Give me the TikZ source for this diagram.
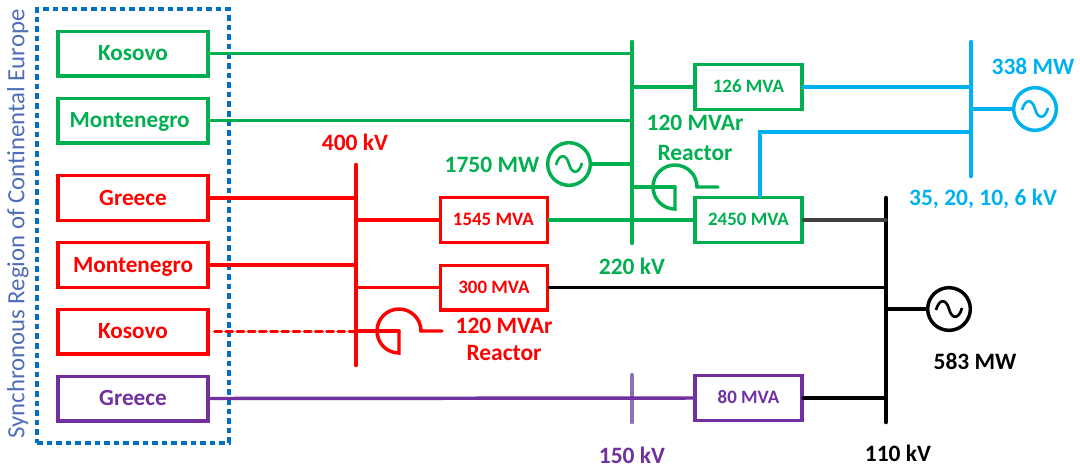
\documentclass[tikz,border=0pt]{standalone}
\usepackage{fontspec}
\setmainfont{Carlito}
\definecolor{acgreen}{HTML}{00B050}
\definecolor{acred}{HTML}{FF0000}
\definecolor{acblue}{HTML}{00B0F0}
\definecolor{acpurple}{HTML}{7030A0}
\definecolor{acfaded}{HTML}{8F6FB5}
\definecolor{acgrey}{HTML}{404040}
\definecolor{acframe}{HTML}{0070C0}
\definecolor{actitle}{HTML}{4F6DB8}
\tikzset{
    wire/.style={line width=2.6pt,line cap=round},
    bus/.style={line width=3.4pt,line cap=round},
    country/.style={draw,line width=2.6pt,minimum width=112.5pt,minimum height=33.4pt,inner sep=0pt,text height=12.6pt,text depth=1.4pt,font=\bfseries\fontsize{17.4}{20}\selectfont},
    trafo/.style={draw,line width=2.6pt,minimum width=80pt,minimum height=33.4pt,inner sep=0pt,text height=10pt,text depth=1.4pt,font=\bfseries\fontsize{14.2}{17}\selectfont},
    level/.style={font=\bfseries\fontsize{17.6}{20}\selectfont},
    gensym/.style={draw,circle,line width=2.6pt,minimum size=32pt,inner sep=0pt},
}
\begin{document}
\begin{tikzpicture}[x=0.75pt,y=-0.75pt]
    \useasboundingbox (0,0) rectangle (1080,468);

    % region
    \node[draw=acframe,line width=2.8pt,dash pattern=on 4.2pt off 3pt,minimum width=144pt,minimum height=325.5pt,inner sep=0pt] (region) at (133,226) {};
    \node[rotate=90,text=actitle,font=\fontsize{18.6}{21}\selectfont] (regionname) at (18,224) {Synchronous Region of Continental Europe};

    % bus bars
    \foreach \b/\x/\t/\e/\c in {red/356/165/365/acred,green/632/42/243/acgreen,blue/971/42/176/acblue,black/886/198/422/black,purple/632/375/422/acfaded}{
        \coordinate (bus\b) at (\x,\t);
        \coordinate (bus\b end) at (\x,\e);
        \draw[bus,\c] (bus\b) -- (bus\b end);
    }

    % countries
    \node[country,acgreen] (kosovoG) at (133,53.5) {Kosovo};
    \node[country,acgreen] (montG) at (133,120.5) {\hspace{-5pt}Montenegro};
    \node[country,acred] (greeceR) at (133,198) {Greece};
    \node[country,acred] (montR) at (133,265) {Montenegro};
    \node[country,acred] (kosovoR) at (133,331.5) {Kosovo};
    \node[country,acpurple] (greeceP) at (133,398.5) {Greece};

    % transformers
    \node[trafo,acred] (t1545) at (494,220) {\hspace{-1pt}1545 MVA};
    \node[trafo,acred] (t300) at (494,287.5) {300 MVA};
    \node[trafo,acgreen] (t126) at (748.5,87) {126 MVA};
    \node[trafo,acgreen] (t2450) at (748.5,220) {2450 MVA};
    \node[trafo,acpurple] (t80) at (748.5,398) {80 MVA};

    % generators
    \foreach \n/\x/\y/\c in {G/569/164/acgreen,B/1035/109/acblue,K/949/309/black}{
        \node[gensym,\c] (gen\n) at (\x,\y) {};
        \draw[\c,line width=2pt] (gen\n.center) ++(-13,1) .. controls +(3,-11) and +(-3,-11) .. ++(13,-1) .. controls +(3,11) and +(-3,11) .. ++(13,-1);
    }

    % reactors
    \foreach \n/\x/\y/\c in {G/675/187/acgreen,R/399/331/acred}{
        \coordinate (reac\n) at (\x,\y);
        \draw[wire,\c] (reac\n) -- ++(0,22) arc[start angle=90,end angle=360,radius=22] -- ++(21,0);
    }

    % lines
    \draw[wire,acgreen] (kosovoG.east) -- (kosovoG.east -| busgreen);
    \draw[wire,acgreen] (montG.east) -- (montG.east -| busgreen);
    \draw[wire,acred] (greeceR.east) -- (greeceR.east -| busred);
    \draw[wire,acred] (montR.east) -- (montR.east -| busred);
    \draw[wire,acred,dashed,dash pattern=on 5pt off 3.4pt] (kosovoR.east) ++(5,0) -- (kosovoR.east -| busred);
    \draw[wire,acred] (reacR -| busred) -- (reacR);
    \draw[wire,acpurple] (greeceP.east) -- (t80.west);
    \draw[wire,acred] (t1545.west -| busred) -- (t1545.west);
    \draw[wire,acred] (t300.west -| busred) -- (t300.west);
    \draw[wire,acgreen] (t1545.east) -- (t2450.west);
    \draw[wire,acgreen] (t126.west -| busgreen) -- (t126.west);
    \draw[wire,acgreen] (genG.east) -- (genG.east -| busgreen);
    \draw[wire,acgreen] (reacG -| busgreen) -- (reacG);
    \draw[wire,acblue] (t126.east) -- (t126.east -| busblue);
    \draw[wire,acblue] (t2450.north -| 760,0) |- (busblue |- 0,132);
    \draw[wire,acblue] (genB.west) -- (genB.west -| busblue);
    \draw[wire,acgrey] (t2450.east) -- (t2450.east -| busblack);
    \draw[wire,black] (t300.east) -- (t300.east -| busblack);
    \draw[wire,black] (t80.east) -- (t80.east -| busblack);
    \draw[wire,black] (genK.west) -- (genK.west -| busblack);

    % labels
    \node[level,acred] (v400) at (355,142) {400 kV};
    \node[level,acgreen] (p1750) at (492,165) {1750 MW};
    \node[level,acgreen] (reacGa) at (695,123) {120 MVAr};
    \node[level,acgreen] (reacGb) at (695,153) {Reactor};
    \node[level,acgreen] (v220) at (632,266) {220 kV};
    \node[level,acblue] (p338) at (1033,66) {338 MW};
    \node[level,acblue] (v35) at (983,199) {35, 20, 10, 6 kV};
    \node[level,acred] (reacRa) at (504,326) {120 MVAr};
    \node[level,acred] (reacRb) at (504,353) {Reactor};
    \node[level,black] (p583) at (975,361) {583 MW};
    \node[level,acpurple] (v150) at (632,455) {150 kV};
    \node[level,black] (v110) at (898,453) {110 kV};

\end{tikzpicture}
\end{document}
